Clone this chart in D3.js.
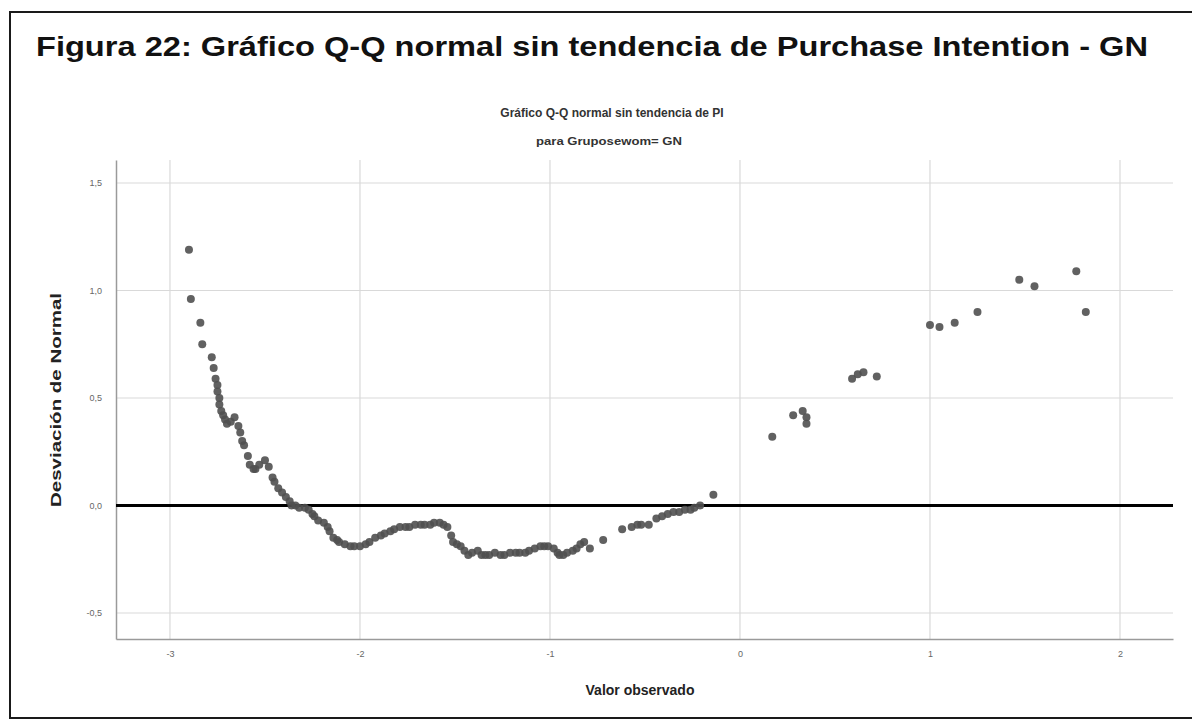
<!DOCTYPE html>
<html>
<head>
<meta charset="utf-8">
<script src="https://cdn.jsdelivr.net/npm/d3@7"></script>
<style>
  html, body { margin: 0; padding: 0; background: #fff; }
  svg { display: block; }
</style>
</head>
<body>
<svg id="chart" width="1192" height="722"></svg>
<script>
// Detrended normal Q-Q plot of Purchase Intention, group GN
const observed = [
  -2.90, -2.89, -2.84, -2.83, -2.78, -2.77, -2.76, -2.75, -2.75, -2.74,
  -2.74, -2.73, -2.72, -2.71, -2.70, -2.68, -2.66, -2.64, -2.63, -2.62,
  -2.61, -2.59, -2.58, -2.56, -2.55, -2.53, -2.50, -2.48, -2.46, -2.45,
  -2.43, -2.41, -2.39, -2.37, -2.36, -2.34, -2.32, -2.29, -2.27, -2.25,
  -2.24, -2.22, -2.19, -2.17, -2.16, -2.14, -2.12, -2.11, -2.08, -2.05,
  -2.03, -2.00, -1.97, -1.95, -1.92, -1.89, -1.87, -1.84, -1.82, -1.79,
  -1.76, -1.74, -1.71, -1.68, -1.66, -1.63, -1.61, -1.58, -1.56, -1.54,
  -1.52, -1.51, -1.49, -1.47, -1.45, -1.43, -1.41, -1.38, -1.36, -1.34,
  -1.32, -1.29, -1.26, -1.24, -1.21, -1.18, -1.16, -1.13, -1.11, -1.08,
  -1.05, -1.03, -1.01, -0.98, -0.96, -0.95, -0.93, -0.91, -0.88, -0.86,
  -0.84, -0.82, -0.79, -0.72, -0.62, -0.57, -0.54, -0.52, -0.48, -0.44,
  -0.41, -0.38, -0.35, -0.32, -0.29, -0.26, -0.24, -0.21, -0.14,
   0.17,  0.28,  0.33,  0.35,  0.35,  0.59,  0.62,  0.65,  0.72,  1.00,
   1.05,  1.13,  1.25,  1.47,  1.55,  1.77,  1.82
];
const deviation = [
   1.19,  0.96,  0.85,  0.75,  0.69,  0.64,  0.59,  0.56,  0.53,  0.50,
   0.47,  0.44,  0.42,  0.40,  0.38,  0.39,  0.41,  0.37,  0.34,  0.30,
   0.28,  0.23,  0.19,  0.17,  0.17,  0.19,  0.21,  0.18,  0.13,  0.11,
   0.08,  0.06,  0.04,  0.02,  0.00,  0.00, -0.01, -0.01, -0.02, -0.04,
  -0.05, -0.07, -0.08, -0.10, -0.12, -0.15, -0.16, -0.17, -0.18, -0.19,
  -0.19, -0.19, -0.18, -0.17, -0.15, -0.14, -0.13, -0.12, -0.11, -0.10,
  -0.10, -0.10, -0.09, -0.09, -0.09, -0.09, -0.08, -0.08, -0.09, -0.10,
  -0.14, -0.17, -0.18, -0.19, -0.21, -0.23, -0.22, -0.21, -0.23, -0.23,
  -0.23, -0.22, -0.23, -0.23, -0.22, -0.22, -0.22, -0.22, -0.21, -0.20,
  -0.19, -0.19, -0.19, -0.20, -0.22, -0.23, -0.23, -0.22, -0.21, -0.20,
  -0.18, -0.17, -0.20, -0.16, -0.11, -0.10, -0.09, -0.09, -0.09, -0.06,
  -0.05, -0.04, -0.03, -0.03, -0.02, -0.02, -0.01,  0.00,  0.05,
   0.32,  0.42,  0.44,  0.41,  0.38,  0.59,  0.61,  0.62,  0.60,  0.84,
   0.83,  0.85,  0.90,  1.05,  1.02,  1.09,  0.90
];
const xTickValues = [-3, -2, -1, 0, 1, 2];
const yTickValues = [-0.5, 0.0, 0.5, 1.0, 1.5];

const figureTitle = "Figura 22: Gráfico Q-Q normal sin tendencia de Purchase Intention - GN";
const chartTitle = "Gráfico Q-Q normal sin tendencia de PI";
const chartSubtitle = "para Gruposewom= GN";
const xLabel = "Valor observado";
const yLabel = "Desviación de Normal";

const svg = d3.select("#chart");
const font = "'Liberation Sans', Arial, sans-serif";

// Spanish number formatting (decimal comma)
const es = d3.formatLocale({ decimal: ",", thousands: ".", grouping: [3], currency: ["", " €"], minus: "-" });
const fmtY = es.format(".1f");
const fmtX = es.format("d");

const plot = { left: 116, right: 1173, top: 160, bottom: 639 };

const x = d3.scaleLinear().domain([-3.284, 2.279]).range([plot.left, plot.right]);
const y = d3.scaleLinear().domain([-0.621, 1.607]).range([plot.bottom, plot.top]);

// Figure frame
svg.append("rect")
  .attr("x", 10).attr("y", 12)
  .attr("width", 1195).attr("height", 706)
  .attr("fill", "none").attr("stroke", "#1a1a1a").attr("stroke-width", 2);

// Figure caption
svg.append("text")
  .attr("x", 36).attr("y", 56)
  .attr("font-family", font).attr("font-size", 27).attr("font-weight", "bold")
  .attr("fill", "#111")
  .attr("textLength", 1112).attr("lengthAdjust", "spacingAndGlyphs")
  .text(figureTitle);

// Chart titles
svg.append("text")
  .attr("x", 612).attr("y", 117)
  .attr("text-anchor", "middle")
  .attr("font-family", font).attr("font-size", 12).attr("font-weight", "bold")
  .attr("fill", "#333")
  .text(chartTitle);

svg.append("text")
  .attr("x", 609).attr("y", 145)
  .attr("text-anchor", "middle")
  .attr("font-family", font).attr("font-size", 11).attr("font-weight", "bold")
  .attr("fill", "#333")
  .attr("textLength", 146).attr("lengthAdjust", "spacingAndGlyphs")
  .text(chartSubtitle);

// Grid lines
const grid = svg.append("g").attr("stroke", "#d9d9d9").attr("stroke-width", 1.2);
grid.selectAll("line.h")
  .data(yTickValues.filter(v => v !== 0))
  .join("line")
  .attr("class", "h")
  .attr("x1", plot.left).attr("x2", plot.right)
  .attr("y1", d => y(d)).attr("y2", d => y(d));
grid.selectAll("line.v")
  .data(xTickValues)
  .join("line")
  .attr("class", "v")
  .attr("x1", d => x(d)).attr("x2", d => x(d))
  .attr("y1", plot.top).attr("y2", plot.bottom);

// Axes
const xAxis = svg.append("g")
  .attr("transform", `translate(0,${plot.bottom})`)
  .call(d3.axisBottom(x).tickValues(xTickValues).tickFormat(fmtX).tickSize(0).tickPadding(12));
const yAxis = svg.append("g")
  .attr("transform", `translate(${plot.left},0)`)
  .call(d3.axisLeft(y).tickValues(yTickValues).tickFormat(fmtY).tickSize(0).tickPadding(14));

[xAxis, yAxis].forEach(g => {
  g.select(".domain").attr("stroke", "#9a9a9a").attr("stroke-width", 1.5);
  g.selectAll("text")
    .attr("font-family", font).attr("font-size", 9).attr("fill", "#666");
});

// Reference line at zero deviation
svg.append("line")
  .attr("x1", plot.left).attr("x2", plot.right)
  .attr("y1", y(0)).attr("y2", y(0))
  .attr("stroke", "#000").attr("stroke-width", 3);

// Points
svg.append("g")
  .selectAll("circle")
  .data(observed.map((v, i) => ({ v, d: deviation[i] })))
  .join("circle")
  .attr("cx", p => x(p.v))
  .attr("cy", p => y(p.d))
  .attr("r", 4)
  .attr("fill", "#505050")
  .attr("fill-opacity", 0.9);

// Axis titles
svg.append("text")
  .attr("x", 640).attr("y", 695)
  .attr("text-anchor", "middle")
  .attr("font-family", font).attr("font-size", 14).attr("font-weight", "bold")
  .attr("fill", "#222")
  .text(xLabel);

svg.append("text")
  .attr("transform", "translate(61,400) rotate(-90)")
  .attr("text-anchor", "middle")
  .attr("font-family", font).attr("font-size", 14).attr("font-weight", "bold")
  .attr("fill", "#222")
  .attr("textLength", 214).attr("lengthAdjust", "spacingAndGlyphs")
  .text(yLabel);
</script>
</body>
</html>
